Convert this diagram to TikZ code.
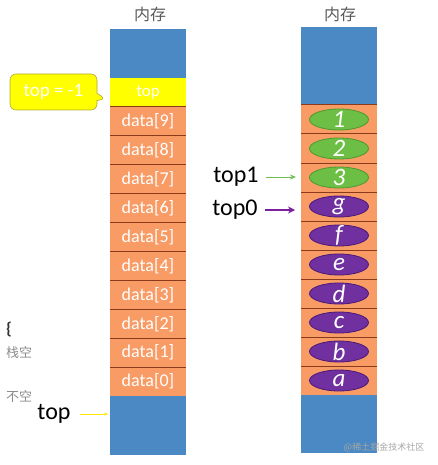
\documentclass[tikz,border=0pt]{standalone}
\usepackage{fontspec}
\setmainfont{Carlito}
\newfontfamily\cjk{Noto Sans CJK SC}
\usetikzlibrary{shapes.geometric,shapes.callouts,arrows.meta}
\definecolor{memblue}{HTML}{4A89C3}
\definecolor{memorange}{HTML}{F89B65}
\definecolor{memyellow}{HTML}{FFFF00}
\definecolor{sepred}{HTML}{8B3A1A}
\definecolor{elgreen}{HTML}{6CBF44}
\definecolor{elgreenb}{HTML}{4E9A2E}
\definecolor{elpurple}{HTML}{7030A0}
\definecolor{elpurpleb}{HTML}{4B1A78}
\definecolor{arrgreen}{HTML}{70C050}
\definecolor{arrpurple}{HTML}{7A1FA2}
\begin{document}
\begin{tikzpicture}[x=1pt,y=-1pt,
  cell/.style={draw=none,minimum width=76pt,inner sep=0pt,outer sep=0pt},
  bluecell/.style={cell,fill=memblue},
  datacell/.style={cell,fill=memorange,text=white,font=\fontsize{18}{18}\selectfont},
  sepline/.style={draw=sepred,line width=1pt},
  ell/.style={ellipse,minimum width=59pt,minimum height=21pt,inner sep=0pt,line width=0.8pt},
  elltext/.style={text=white,font=\itshape\fontsize{25}{25}\selectfont,inner sep=0pt},
  title/.style={font=\cjk\fontsize{16}{16}\selectfont,text=black!65},
  graytxt/.style={font=\cjk\fontsize{13}{13}\selectfont,text=black!45},
  biglabel/.style={font=\fontsize{24}{24}\selectfont,text=black}
]
\useasboundingbox (0,0) rectangle (437,465);
% titles
\node[title] (tl) at (150,14) {内存};
\node[title] (tr) at (340,14) {内存};
% ---------- left column ----------
\node[bluecell,minimum height=49pt] (ltop) at (148,53.5) {};
\node[cell,fill=memyellow,text=white,font=\fontsize{17}{17}\selectfont,minimum height=29pt] (ly) at (148,92.5) {top};
\foreach \i in {0,...,9}{
  \pgfmathsetmacro\yy{107+28.9*\i+14.45}
  \pgfmathtruncatemacro\k{9-\i}
  \node[datacell,minimum height=28.9pt] (ld\k) at (148,\yy) {data[\k]};
}
\node[bluecell,minimum height=59pt] (lbot) at (148,425.5) {};
\draw[sepline] (ly.south west) -- (ly.south east);
\foreach \k in {9,...,1}{
  \draw[sepline] (ld\k.south west) -- (ld\k.south east);
}
% callout
\node[rectangle callout,fill=memyellow,draw=olive!70,line width=0.6pt,rounded corners=6pt,
      minimum width=87pt,minimum height=36pt,text=white,font=\fontsize{19}{19}\selectfont,
      callout absolute pointer={([xshift=-4pt,yshift=-6.5pt]ly.west)}] (cb) at (53.5,92) {top = -1};
% left side labels
\node[font=\fontsize{17}{17}\selectfont\bfseries,text=black!80] (brace) at (9,330) {\{};
\node[graytxt] (empty) at (19,353) {栈空};
\node[graytxt] (nonempty) at (19,397) {不空};
\node[biglabel] (ltopl) at (54,414) {top};
\draw[-{Stealth[length=4pt,width=3pt]},draw=yellow!90!orange,line width=0.7pt,shorten <=6pt,shorten >=2pt] (ltopl.east) -- (ltopl.east -| lbot.west);
% ---------- right column ----------
\node[bluecell,minimum height=78pt] (rtop) at (339,66) {};
\foreach \lab [count=\n from 0] in {1,2,3,g,f,e,d,c,b,a}{
  \pgfmathsetmacro\yy{105+29*\n+14.5}
  \node[datacell,minimum height=29pt] (r\n) at (339,\yy) {};
  \ifnum\n<3
    \node[ell,fill=elgreen,draw=elgreenb,label={[elltext]center:\lab}] (e\n) at (339,\yy) {};
  \else
    \node[ell,fill=elpurple,draw=elpurpleb,label={[elltext]center:\lab}] (e\n) at (339,\yy) {};
  \fi
}
\node[bluecell,minimum height=58pt] (rbot) at (339,424) {};
\draw[sepline] (rtop.south west) -- (rtop.south east);
\foreach \n in {0,...,8}{
  \draw[sepline] (r\n.south west) -- (r\n.south east);
}
% pointers
\node[biglabel] (top1) at (236,177) {top1};
\node[biglabel] (top0) at (235,210) {top0};
\draw[-{Stealth[length=6pt,width=5pt]},draw=arrgreen,fill=arrgreen,line width=1pt,shorten <=4pt,shorten >=5pt] (top1.east) -- (top1.east -| r2.west);
\draw[-{Stealth[length=7pt,width=7pt]},draw=arrpurple,fill=arrpurple,line width=2pt,shorten <=4pt,shorten >=6pt] (top0.east) -- (top0.east -| r3.west);
% watermark
\node[font=\cjk\fontsize{9}{9}\selectfont,text=black!35] (wm) at (384,447) {@稀土掘金技术社区};
\end{tikzpicture}
\end{document}
